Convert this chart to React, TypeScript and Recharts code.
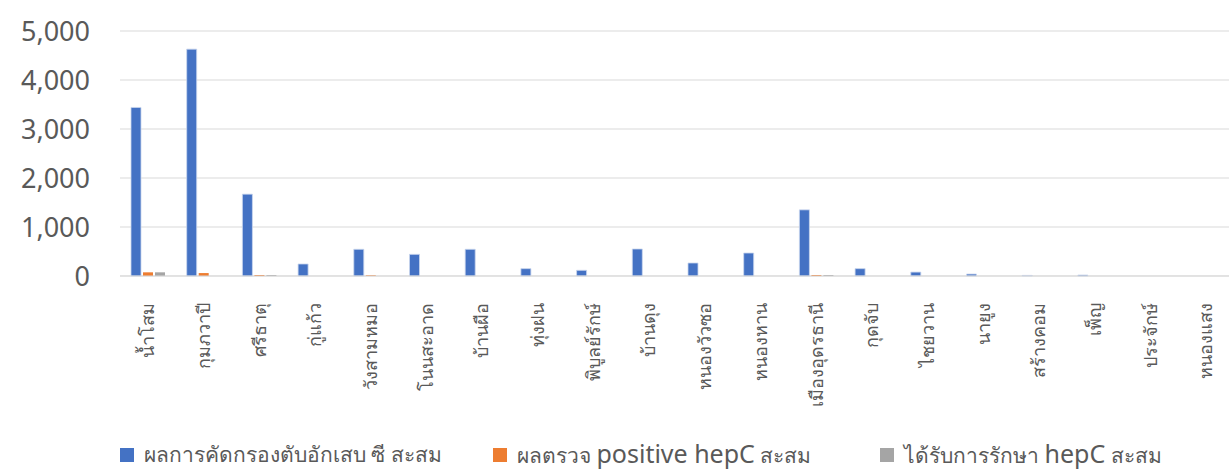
import React from "react";
import { BarChart, Bar, XAxis, YAxis, CartesianGrid, Legend } from "recharts";

const districts = [
  "น้ำโสม", "กุมภวาปี", "ศรีธาตุ", "กู่แก้ว", "วังสามหมอ", "โนนสะอาด", "บ้านผือ", "ทุ่งฝน",
  "พิบูลย์รักษ์", "บ้านดุง", "หนองวัวซอ", "หนองหาน", "เมืองอุดรธานี", "กุดจับ", "ไชยวาน", "นายูง",
  "สร้างคอม", "เพ็ญ", "ประจักษ์", "หนองแสง",
];
const screened = [3440, 4630, 1670, 245, 545, 442, 545, 150, 116, 551, 265, 469, 1350, 150, 80, 40, 12, 20, 0, 0];
const positive = [75, 60, 20, 0, 15, 0, 0, 0, 0, 0, 0, 0, 20, 0, 0, 0, 0, 0, 0, 0];
const treated = [75, 0, 20, 0, 0, 0, 0, 0, 0, 0, 0, 0, 20, 0, 0, 0, 0, 0, 0, 0];
const yTicks = [0, 1000, 2000, 3000, 4000, 5000];

const data = districts.map((name, i) => ({
  name,
  screened: screened[i],
  positive: positive[i],
  treated: treated[i],
}));

const FONT = "'Noto Sans', 'Open Sans', sans-serif";

const XTick = (props: any) => {
  const { x, y, payload } = props;
  return (
    <text
      x={x}
      y={y + 19}
      transform={`rotate(-90 ${x} ${y + 19})`}
      textAnchor="end"
      dy="0.35em"
      fill="#595959"
      fontSize={18}
      fontFamily={FONT}
    >
      {payload.value}
    </text>
  );
};

const LegendContent = () => {
  const item = (left: number, color: string, parts: React.ReactNode) => (
    <div style={{ position: "absolute", left, top: 15, display: "flex", alignItems: "center", height: 28 }}>
      <div style={{ width: 14, height: 14, background: color, marginRight: 10 }} />
      <div style={{ color: "#595959", fontFamily: FONT, whiteSpace: "nowrap", lineHeight: "28px" }}>{parts}</div>
    </div>
  );
  return (
    <div style={{ position: "relative", width: 1229, height: 43 }}>
      {item(120, "#4472C4", <span style={{ fontSize: 21 }}>ผลการคัดกรองตับอักเสบ ซี สะสม</span>)}
      {item(493, "#ED7D31", <>
        <span style={{ fontSize: 21 }}>ผลตรวจ </span>
        <span style={{ fontSize: 25 }}>positive hepC</span>
        <span style={{ fontSize: 21 }}> สะสม</span>
      </>)}
      {item(880, "#A5A5A5", <>
        <span style={{ fontSize: 21 }}>ได้รับการรักษา </span>
        <span style={{ fontSize: 25 }}>hepC</span>
        <span style={{ fontSize: 21 }}> สะสม</span>
      </>)}
    </div>
  );
};

export default function App() {
  return (
    <div style={{ position: "absolute", left: 0, top: 0, width: 1229, height: 469, background: "#fff", overflow: "hidden" }}>
      <BarChart
        width={1240}
        height={469}
        data={data}
        margin={{ top: 31, right: 6, left: 0, bottom: 0 }}
        barCategoryGap={11}
        barGap={2}
      >
        <CartesianGrid vertical={false} stroke="#d9d9d9" />
        <XAxis
          dataKey="name"
          interval={0}
          height={150}
          tick={<XTick />}
          tickLine={false}
          axisLine={{ stroke: "#d9d9d9" }}
        />
        <YAxis
          width={120}
          domain={[0, 5000]}
          ticks={yTicks}
          axisLine={false}
          tickLine={false}
          tickMargin={24}
          tickFormatter={(v: number) => v.toLocaleString("en-US")}
          tick={{ fill: "#595959", fontSize: 27, fontFamily: FONT }}
        />
        <Legend verticalAlign="bottom" height={43} content={<LegendContent />} wrapperStyle={{ left: 0, bottom: 0 }} />
        <Bar dataKey="screened" fill="#4472C4" stroke="#c9d6ee" strokeWidth={0.8} isAnimationActive={false} />
        <Bar dataKey="positive" fill="#ED7D31" isAnimationActive={false} />
        <Bar dataKey="treated" fill="#A5A5A5" isAnimationActive={false} />
      </BarChart>
    </div>
  );
}
